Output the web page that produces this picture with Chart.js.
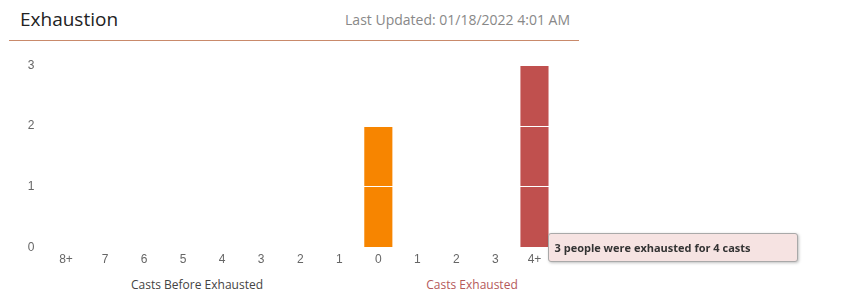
<!DOCTYPE html>
<html>
<head>
<meta charset="utf-8">
<script src="https://cdn.jsdelivr.net/npm/chart.js@4/dist/chart.umd.min.js"></script>
<style>
  body { margin: 0; background: #fff; font-family: "Open Sans", sans-serif; width: 841px; height: 307px; overflow: hidden; position: relative; }
  #title { position: absolute; left: 20px; top: 6px; font-size: 19px; color: #222; }
  #updated { position: absolute; right: 271px; top: 10px; font-size: 14px; color: #888; }
  #rule { position: absolute; left: 9px; top: 40px; width: 570px; border-top: 1px solid #c98a6b; }
  #wrap { position: absolute; left: 0; top: 46px; width: 580px; height: 221px; }
  .axis-note { position: absolute; top: 276px; font-size: 12px; transform: translateX(-50%); white-space: nowrap; }
  #tip { position: absolute; display: none; background: #f6e3e2; border: 1px solid #a9a9a9; border-radius: 3px;
         box-shadow: 1px 1px 3px rgba(0,0,0,0.25); font: bold 11px "Open Sans", sans-serif; color: #333;
         padding: 6px 46px 6px 6px; white-space: nowrap; }
</style>
</head>
<body>
<div id="title">Exhaustion</div>
<div id="updated">Last Updated: 01/18/2022 4:01 AM</div>
<div id="rule"></div>
<div id="wrap"><canvas id="exhaustChart"></canvas></div>
<div class="axis-note" style="left:197px;color:#444;">Casts Before Exhausted</div>
<div class="axis-note" style="left:472px;color:#b5595a;">Casts Exhausted</div>
<div id="tip"></div>
<script>
// Exhaustion chart
var castLabels = ['8+', '7', '6', '5', '4', '3', '2', '1', '0', '1', '2', '3', '4+'];
var castCasts = [8, 7, 6, 5, 4, 3, 2, 1, 0, 1, 2, 3, 4];
var peopleCounts = [0, 0, 0, 0, 0, 0, 0, 0, 2, 0, 0, 0, 3];
var yTicks = [0, 1, 2, 3];
var beforeColor = '#f78500';
var exhaustedColor = '#c0504e';

var barColors = castLabels.map(function (l, i) { return i <= 8 ? beforeColor : exhaustedColor; });

var tipEl = document.getElementById('tip');

function showTip(context) {
  var tt = context.tooltip;
  if (!tt.dataPoints || !tt.dataPoints.length || tt.opacity === 0) { tipEl.style.display = 'none'; return; }
  var dp = tt.dataPoints[0];
  var bar = dp.element;
  var chart = context.chart;
  var box = chart.canvas.getBoundingClientRect();
  tipEl.textContent = dp.raw + ' people were exhausted for ' + castCasts[dp.dataIndex] + ' casts';
  tipEl.style.display = 'block';
  tipEl.style.left = (box.left + bar.x + bar.width / 2 - 1) + 'px';
  tipEl.style.top = (box.top + chart.chartArea.bottom - tipEl.offsetHeight / 2) + 'px';
}

var exhaustChart = new Chart(document.getElementById('exhaustChart'), {
  type: 'bar',
  data: {
    labels: castLabels,
    datasets: [{
      data: peopleCounts,
      backgroundColor: barColors,
      borderWidth: 0
    }]
  },
  options: {
    responsive: true,
    maintainAspectRatio: false,
    animation: false,
    layout: { padding: { top: 12, right: 26, left: 0, bottom: 0 } },
    plugins: {
      legend: { display: false },
      tooltip: { enabled: false, external: showTip }
    },
    scales: {
      x: {
        grid: { display: false },
        border: { display: false },
        ticks: { color: '#666', font: { size: 12 }, padding: -3 }
      },
      y: {
        min: 0,
        max: 3,
        afterFit: function (scale) { scale.width = 46.5; },
        afterBuildTicks: function (scale) { scale.ticks = yTicks.map(function (v) { return { value: v }; }); },
        grid: { color: '#fff', lineWidth: 1, drawTicks: false, z: 1 },
        border: { display: false },
        ticks: { color: '#666', font: { size: 12 }, padding: 12 }
      }
    }
  }
});

exhaustChart.tooltip.setActiveElements([{ datasetIndex: 0, index: 12 }], { x: 0, y: 0 });
exhaustChart.update();
</script>
</body>
</html>
